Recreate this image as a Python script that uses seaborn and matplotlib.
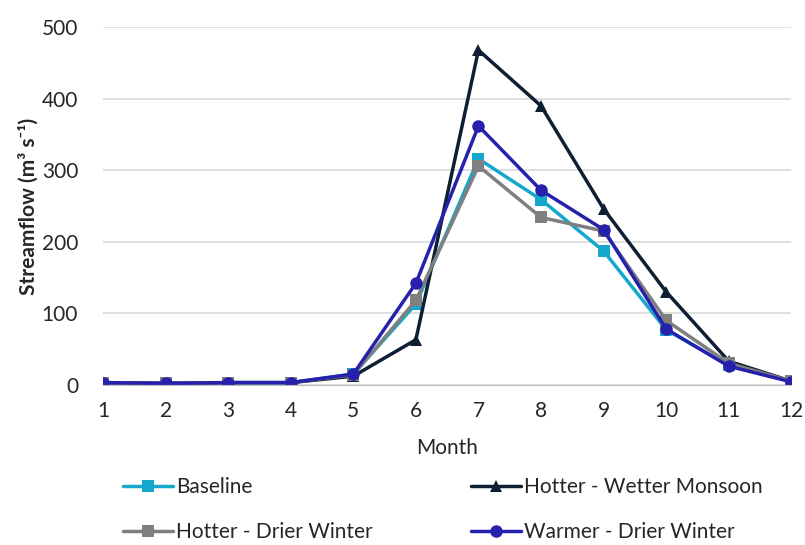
import matplotlib
matplotlib.use("Agg")
import matplotlib.pyplot as plt
import seaborn as sns
import pandas as pd

months = list(range(1, 13))
baseline = [3, 2, 3, 3, 15, 113, 316, 259, 187, 77, 27, 5]
hotter_wetter = [3, 2, 3, 3, 12, 63, 468, 390, 246, 130, 33, 5]
hotter_drier = [3, 2, 3, 3, 14, 118, 306, 234, 215, 90, 30, 5]
warmer_drier = [3, 2, 3, 3, 15, 142, 362, 272, 217, 78, 26, 4]

series = ["Baseline", "Hotter - Wetter Monsoon", "Hotter - Drier Winter", "Warmer - Drier Winter"]
values = [baseline, hotter_wetter, hotter_drier, warmer_drier]
colors = ["#14A9CC", "#0E1F33", "#7F7F7F", "#2521AD"]
markers = ["s", "^", "s", "o"]

df = pd.concat([pd.DataFrame({"Month": months, "Flow": v, "Scenario": s})
                for s, v in zip(series, values)], ignore_index=True)

sns.set_style("white")
plt.rcParams["font.family"] = ["Lato", "DejaVu Sans"]

fig = plt.figure(figsize=(8.05, 5.45), dpi=100)
ax = fig.add_axes([0.128, 0.294, 0.855, 0.656])

for s, c, m in zip(series, colors, markers):
    sns.lineplot(data=df[df["Scenario"] == s], x="Month", y="Flow", ax=ax,
                 color=c, marker=m, markersize=9, markeredgewidth=0,
                 linewidth=2.5, label=s)

ax.set_xlim(1, 12)
ax.set_ylim(0, 500)
ax.set_xticks(months)
ax.set_yticks(range(0, 501, 100))
ax.tick_params(axis="x", labelsize=15, length=0, pad=12)
ax.tick_params(axis="y", labelsize=15, length=0, pad=18)
ax.yaxis.grid(True, color="#D9D9D9", linewidth=1.2)
ax.set_axisbelow(True)
for sp in ["top", "right", "left"]:
    ax.spines[sp].set_visible(False)
ax.spines["bottom"].set_color("#BFBFBF")
ax.set_xlabel("Month", fontsize=15, labelpad=12)
ax.set_ylabel("Streamflow (m³ s⁻¹)", fontsize=15, fontweight="bold", labelpad=2)

h, l = ax.get_legend_handles_labels()
order = [0, 2, 1, 3]
fig.legend([h[i] for i in order], [l[i] for i in order], ncol=2,
           loc="center left", bbox_to_anchor=(0.135, 0.065), frameon=False,
           fontsize=15, handlelength=2.4, handletextpad=0.15,
           columnspacing=4.7, labelspacing=1.2, borderpad=0.2)
ax.get_legend().remove()

fig.savefig("out.png", dpi=100)
